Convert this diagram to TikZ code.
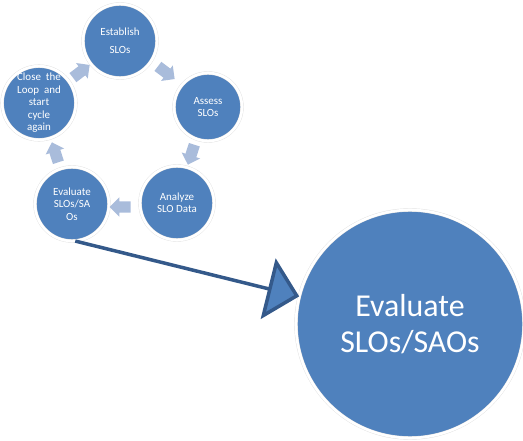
\documentclass[tikz,border=0pt]{standalone}
\usepackage{fontspec}
\setmainfont{Carlito}
\usetikzlibrary{shapes.arrows,arrows.meta}
\definecolor{cfill}{HTML}{4F81BD}
\definecolor{carrow}{HTML}{A9BCDB}
\definecolor{cdark}{HTML}{34598A}
\tikzset{
  x=1bp,y=-1bp,
  stage/.style={circle,fill=cfill,draw=black!12,double=white,double distance=2.6bp,line width=0.4bp,
    inner sep=0pt,minimum size=#1,text=white,align=center,font=\fontsize{11}{12.5}\selectfont},
  chev/.style={single arrow,fill=carrow,draw=none,minimum height=21bp,minimum width=19bp,
    single arrow head extend=4bp,single arrow head indent=0bp,inner xsep=0pt,inner ysep=5.5bp,
    text height=0pt,text depth=0pt,rotate=#1},
  bigarrow/.style={draw=cdark,line width=3.5bp,-{Triangle[length=32bp,width=62bp,fill=cfill]}}
}
\begin{document}
\begin{tikzpicture}
\useasboundingbox (0,0) rectangle (523,441);
\node[stage=74bp] (est) at (120,41) {Establish\\[6bp]SLOs};
\node[stage=68bp] (ass) at (208,107) {Assess\\SLOs};
\node[stage=74bp] (ana) at (177,203) {Analyze\\SLO Data};
\node[stage=74bp] (evs) at (72,204) {Evaluate\\SLOs/SA\\Os};
\node[stage=72bp] (clo) at (39,103) {Close\ \ the\\Loop\ \ and\\start\\cycle\\again};
\node[stage=228bp,font=\fontsize{32}{36}\selectfont] (big) at (410,324) {Evaluate\\SLOs/SAOs};
\node[chev=-37] (a1) at (164,71) {};
\node[chev=-108] (a2) at (192,152) {};
\node[chev=180] (a3) at (123,207) {};
\node[chev=108] (a4) at (56,155) {};
\node[chev=37] (a5) at (79,73) {};
\draw[bigarrow] (evs.-85) -- (big.166);
\end{tikzpicture}
\end{document}
